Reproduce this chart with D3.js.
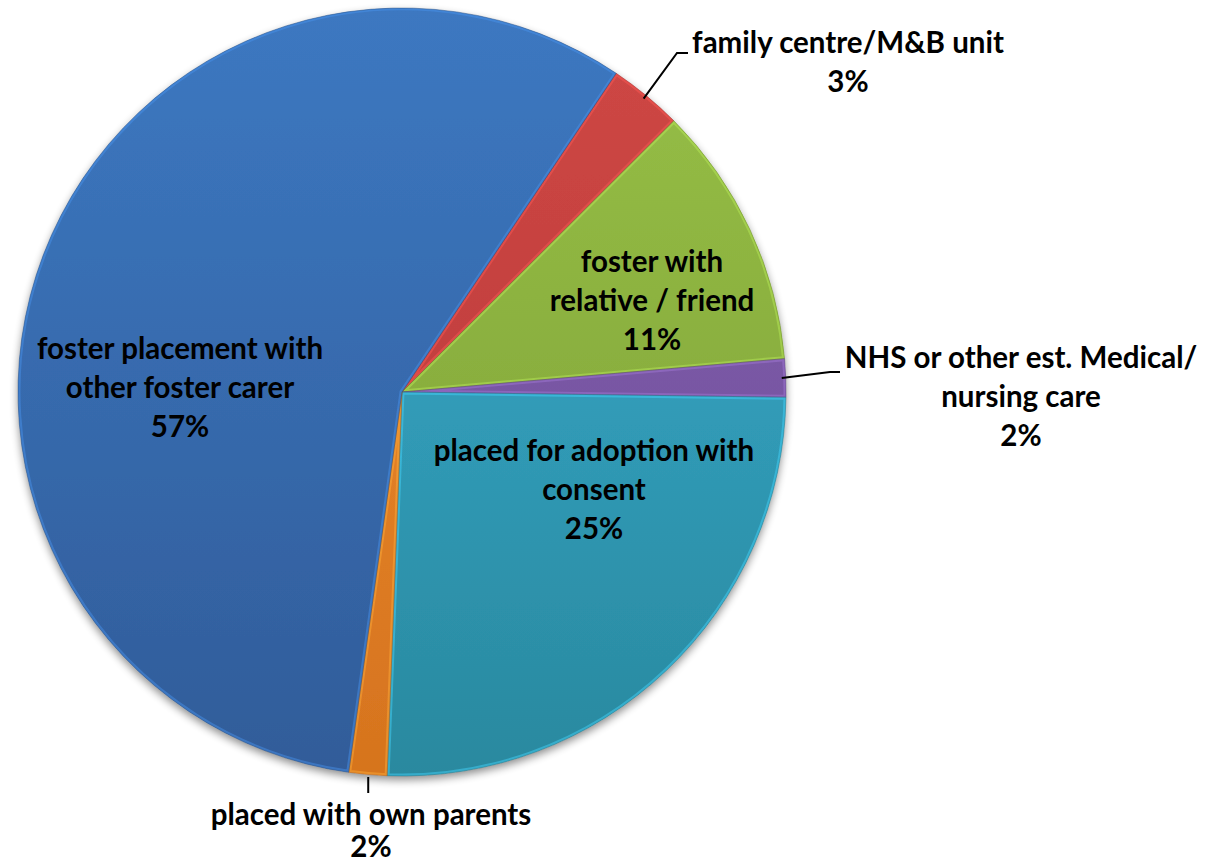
<!DOCTYPE html>
<html>
<head>
<meta charset="utf-8">
<script src="https://cdn.jsdelivr.net/npm/d3@7"></script>
<style>
  html, body { margin: 0; padding: 0; background: #ffffff; }
  svg { display: block; }
  text { font-family: Lato, "Open Sans", sans-serif; font-weight: 700; fill: #000; }
</style>
</head>
<body>
<svg id="chart" width="1205" height="864"></svg>
<script>
// ---- data ----
const categories = [
  "family centre/M&B unit",
  "foster with relative / friend",
  "NHS or other est. Medical/ nursing care",
  "placed for adoption with consent",
  "placed with own parents",
  "foster placement with other foster carer"
];
const values = [3.1, 11.1, 1.6, 25.4, 1.6, 57.2];
const percentLabels = ["3%", "11%", "2%", "25%", "2%", "57%"];
const labelLines = [
  ["family centre/M&B unit", "3%"],
  ["foster with", "relative / friend", "11%"],
  ["NHS or other est. Medical/", "nursing care", "2%"],
  ["placed for adoption with", "consent", "25%"],
  ["placed with own parents", "2%"],
  ["foster placement with", "other foster carer", "57%"]
];
const topColors = ["#cf4745", "#97c047", "#8462b0", "#37aed1", "#ef8d30", "#3c78c1"];
const bottomColors = ["#b53937", "#7c9d35", "#6d4c97", "#2a899f", "#d6741e", "#315c99"];

// ---- layout ----
const W = 1205, H = 864;
const cx = 402, cy = 392, R = 384;
const startDeg = 33.9;
const labelLayout = [
  {x: 848, y: 53, outside: true},
  {x: 652, y: 272},
  {x: 1021, y: 368, outside: true},
  {x: 594, y: 461},
  {x: 371, y: 825, outside: true},
  {x: 180, y: 359}
];
const lineH = 39;

const svg = d3.select("#chart");
const defs = svg.append("defs");

// drop shadow
const f = defs.append("filter").attr("id", "shadow")
  .attr("x", "-10%").attr("y", "-10%").attr("width", "120%").attr("height", "125%");
f.append("feGaussianBlur").attr("in", "SourceAlpha").attr("stdDeviation", 4).attr("result", "b");
f.append("feOffset").attr("in", "b").attr("dx", 0).attr("dy", 4).attr("result", "o");
f.append("feComponentTransfer").attr("in", "o").attr("result", "oc")
  .append("feFuncA").attr("type", "linear").attr("slope", 0.45);
const m = f.append("feMerge");
m.append("feMergeNode").attr("in", "oc");
m.append("feMergeNode").attr("in", "SourceGraphic");

topColors.forEach((c, i) => {
  const g = defs.append("linearGradient").attr("id", "grad" + i)
    .attr("gradientUnits", "userSpaceOnUse")
    .attr("x1", 0).attr("y1", -R).attr("x2", 0).attr("y2", R);
  g.append("stop").attr("offset", "0%").attr("stop-color", c);
  g.append("stop").attr("offset", "100%").attr("stop-color", bottomColors[i]);
});

const pie = d3.pie().sort(null).value(d => d)
  .startAngle(startDeg * Math.PI / 180)
  .endAngle(startDeg * Math.PI / 180 + 2 * Math.PI);
const arcs = pie(values);
const arc = d3.arc().innerRadius(0).outerRadius(R);

const g = svg.append("g").attr("transform", `translate(${cx},${cy})`);
const slices = g.append("g").attr("filter", "url(#shadow)");

arcs.forEach((a, i) => {
  defs.append("clipPath").attr("id", "clip" + i)
    .append("path").attr("d", arc(a));
});

slices.selectAll("path.slice").data(arcs).join("path")
  .attr("class", "slice")
  .attr("d", arc)
  .attr("fill", (d, i) => `url(#grad${i})`);

// bevel: inner light edge + thin dark outline
const bevel = g.append("g");
arcs.forEach((a, i) => {
  bevel.append("path").attr("d", arc(a))
    .attr("clip-path", `url(#clip${i})`)
    .attr("fill", "none")
    .attr("stroke", d3.rgb(topColors[i]).brighter(0.6))
    .attr("stroke-opacity", 0.45)
    .attr("stroke-width", 5);
  bevel.append("path").attr("d", arc(a))
    .attr("fill", "none")
    .attr("stroke", d3.rgb(bottomColors[i]).darker(0.5))
    .attr("stroke-opacity", 0.6)
    .attr("stroke-width", 0.8);
});

// leader lines for outside labels
function polar(angle, r) { return [cx + r * Math.sin(angle), cy - r * Math.cos(angle)]; }
const leaders = svg.append("g").attr("fill", "none").attr("stroke", "#000").attr("stroke-width", 2);
arcs.forEach((a, i) => {
  const L = labelLayout[i];
  if (!L.outside) return;
  const mid = (a.startAngle + a.endAngle) / 2;
  const p0 = polar(mid, R - 4);
  let pts;
  if (i === 0) pts = [p0, [677, 53], [688, 53]];
  else if (i === 2) pts = [p0, [830, 372], [840, 372]];
  else pts = [[p0[0], cy + R + 1], [p0[0], cy + R + 17]];
  leaders.append("path").attr("d", d3.line()(pts));
});

// labels
const labels = svg.append("g").attr("text-anchor", "middle").style("font-size", "29.5px");
labelLines.forEach((lines, i) => {
  const L = labelLayout[i];
  const t = labels.append("text").attr("x", L.x).attr("y", L.y);
  lines.forEach((ln, k) => {
    let y = L.y + k * lineH;
    if (i === 4 && k === 1) y = Math.min(y, 857);
    t.append("tspan").attr("x", L.x).attr("y", y).text(ln);
  });
});
</script>
</body>
</html>
